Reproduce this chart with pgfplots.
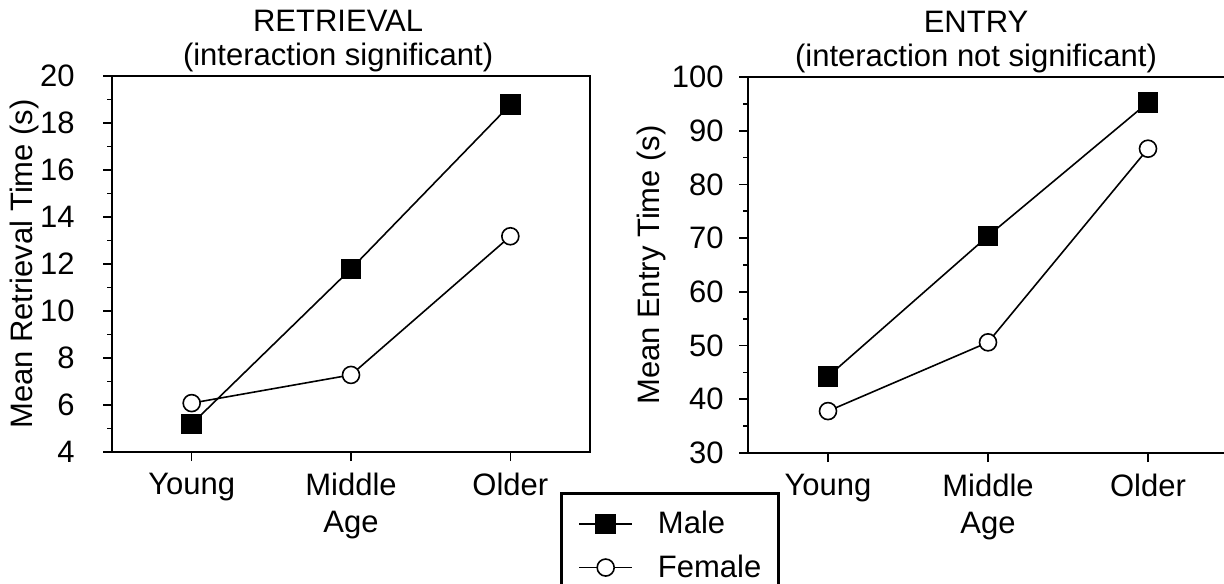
\documentclass[border=0pt]{standalone}
\usepackage{fontspec}
\setmainfont{Liberation Sans}
\usepackage{pgfplots}
\pgfplotsset{compat=1.18}
\newcommand{\fs}{\fontsize{15.5}{18.5}\selectfont}
\pgfplotsset{
  myax/.style={
    scale only axis,
    xmin=-0.5, xmax=2.5, xtick={0,1,2},
    xticklabels={Young,Middle\\Age,Older},
    xticklabel style={align=center, anchor=north, inner sep=0pt, font=\fs, yshift=-6pt},
    yticklabel style={anchor=east, inner sep=0pt, font=\fs},
    tick align=outside, xtick pos=bottom, ytick pos=left,
    major tick length=4.5pt, minor tick length=2.5pt,
    minor y tick num=1,
    axis line style={line width=1pt},
    every tick/.style={black, line width=0.8pt},
    /pgf/number format/assume math mode=true,
    title style={align=center, anchor=south, inner sep=0pt, font=\fontsize{15.5}{17}\selectfont},
    ylabel style={font=\fs, anchor=center, inner sep=0pt},
    clip=false,
  },
  male/.style={black, line width=0.8pt, mark=square*, mark size=4.75pt, mark options={fill=black, line width=0.8pt}},
  female/.style={black, line width=0.8pt, mark=*, mark size=4.25pt, mark options={fill=white, line width=0.8pt}},
}
\begin{document}
\begin{tikzpicture}
\path[use as bounding box] (0pt,0pt) rectangle (612pt,291.5pt);
\begin{axis}[myax,
  at={(56pt,65.5pt)}, anchor=south west,
  width=239pt, height=188pt,
  ymin=4, ymax=20, ytick={4,6,...,20},
  yticklabel style={xshift=-14pt},
  title={RETRIEVAL\\(interaction significant)},
  title style={at={(axis description cs:0.473,1)}, yshift=-4pt},
  ylabel={Mean Retrieval Time (s)},
  ylabel style={at={(axis description cs:-0.184,0.5)}},
  legend cell align=left,
  legend image code/.code={\draw[mark repeat=2,mark phase=2,#1] plot coordinates {(0pt,0pt) (13.25pt,0pt) (26.5pt,0pt)};},
  legend style={at={(axis description cs:0.937,-0.106)}, anchor=north west,
    draw=black, line width=1.5pt, inner xsep=8.5pt, inner ysep=9pt,
    font=\fs, row sep=9pt, nodes={inner sep=0pt},
    /tikz/every odd column/.append style={column sep=12.5pt}},
]
\addplot[male] coordinates {(0,5.19) (1,11.79) (2,18.78)};
\addlegendentry{Male}
\addplot[female] coordinates {(0,6.08) (1,7.28) (2,13.18)};
\addlegendentry{Female}
\end{axis}
\begin{axis}[myax,
  at={(374pt,65pt)}, anchor=south west,
  width=240pt, height=188pt,
  ymin=30, ymax=100, ytick={30,40,...,100},
  yticklabel style={xshift=-7.5pt},
  title={ENTRY\\(interaction not significant)},
  title style={at={(axis description cs:0.475,1)}, yshift=-4pt},
  ylabel={Mean Entry Time (s)},
  ylabel style={at={(axis description cs:-0.202,0.5)}},
]
\addplot[male] coordinates {(0,44.25) (1,70.4) (2,95.25)};
\addplot[female] coordinates {(0,37.8) (1,50.6) (2,86.65)};
\end{axis}
\end{tikzpicture}
\end{document}
